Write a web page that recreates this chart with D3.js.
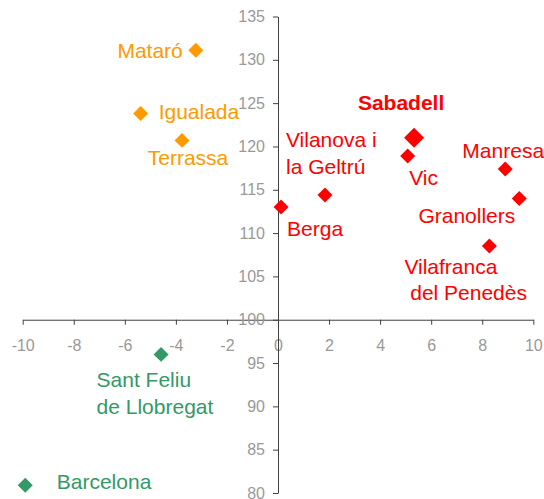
<!DOCTYPE html>
<html lang="en">
<head>
<meta charset="UTF-8">
<title>Scatter</title>
<style>
  body { margin: 0; background: #fff; }
  text { font-family: "Liberation Sans", Arial, sans-serif; }
</style>
</head>
<body>
<script src="https://cdn.jsdelivr.net/npm/d3@7"></script>
<script>
    const width = 544, height = 499;

    // cities, values
    const names = ["Mataró", "Igualada", "Terrassa", "Sabadell", "Vic", "Manresa", "Granollers",
                   "Vilafranca del Penedès", "Vilanova i la Geltrú", "Berga", "Sant Feliu de Llobregat", "Barcelona"];
    const xValues = [-3.22, -5.38, -3.76, 5.33, 5.08, 8.90, 9.45, 8.28, 1.84, 0.12, -4.58, -9.90];
    const yValues = [131.1, 123.8, 120.7, 121.0, 118.9, 117.4, 114.0, 108.5, 114.4, 113.0, 96.0, 80.9];
    const groups  = ["orange", "orange", "orange", "red", "red", "red", "red", "red", "red", "red", "green", "green"];
    const labelLines = [["Mataró"], ["Igualada"], ["Terrassa"], ["Sabadell"], ["Vic"], ["Manresa"], ["Granollers"],
                        ["Vilafranca", " del Penedès"], ["Vilanova i", "la Geltrú"], ["Berga"], ["Sant Feliu", "de Llobregat"], ["Barcelona"]];
    const xTicks = d3.range(-10, 11, 2);
    const yTicks = d3.range(80, 136, 5);

    // label placement (pixels relative to the marker)
    const labelPos = [
        {anchor: "end", dx: -13, dy: 8},
        {anchor: "start", dx: 18, dy: 5},
        {anchor: "middle", dx: 6, dy: 25},
        {anchor: "middle", dx: -13, dy: -28, bold: true},
        {anchor: "start", dx: 1.5, dy: 29.5},
        {anchor: "middle", dx: -2, dy: -11},
        {anchor: "end", dx: -4, dy: 24.5},
        {anchor: "start", dx: -85, dy: 27.5},
        {anchor: "start", dx: -39, dy: -47.5},
        {anchor: "start", dx: 6, dy: 28.5},
        {anchor: "start", dx: -64.5, dy: 32.5},
        {anchor: "start", dx: 31.5, dy: 4}
    ];

    const color = {orange: "#ff9900", red: "#ff0000", green: "#339966"};

    const data = names.map((n, i) => ({name: n, x: xValues[i], y: yValues[i], group: groups[i],
                                       lines: labelLines[i], pos: labelPos[i], big: n === "Sabadell"}));

    const x = d3.scaleLinear().domain([-10, 10]).range([22.7, 533.3]);
    const y = d3.scaleLinear().domain([80, 135]).range([493, 16.5]);

    const svg = d3.select("body").append("svg")
        .attr("width", width)
        .attr("height", height)
        .attr("viewBox", [0, 0, width, height]);

    const axisColor = "#404040", tickColor = "#999999";
    // plain hyphen for negatives, like the original
    const fmt = d => String(d);

    svg.append("g")
        .attr("transform", `translate(0,${y(100)})`)
        .call(d3.axisBottom(x).tickValues(xTicks).tickFormat(fmt).tickSize(5).tickPadding(15).tickSizeOuter(0))
        .call(g => g.select(".domain").attr("stroke", axisColor))
        .call(g => g.selectAll(".tick line").attr("stroke", axisColor))
        .call(g => g.selectAll(".tick text").attr("fill", tickColor).style("font-size", "16px"));

    svg.append("g")
        .attr("transform", `translate(${x(0)},0)`)
        .call(d3.axisLeft(y).tickValues(yTicks).tickFormat(fmt).tickSize(5).tickPadding(8).tickSizeOuter(0))
        .call(g => g.select(".domain").attr("stroke", axisColor))
        .call(g => g.selectAll(".tick line").attr("stroke", axisColor))
        .call(g => g.selectAll(".tick text").attr("fill", tickColor).style("font-size", "16px"));

    const diamond = d3.symbol().type(d3.symbolSquare);

    svg.append("g")
        .selectAll("path")
        .data(data)
        .join("path")
        .attr("transform", d => `translate(${x(d.x)},${y(d.y)}) rotate(45)`)
        .attr("d", d => diamond.size(d.big ? 200 : 112)())
        .attr("fill", d => color[d.group]);

    const labels = svg.append("g")
        .selectAll("text")
        .data(data)
        .join("text")
        .attr("x", d => x(d.x) + d.pos.dx)
        .attr("y", d => y(d.y) + d.pos.dy)
        .attr("text-anchor", d => d.pos.anchor)
        .attr("fill", d => color[d.group])
        .attr("font-weight", d => d.pos.bold ? "bold" : null)
        .style("font-size", "21px")
        .style("white-space", "pre");

    labels.selectAll("tspan")
        .data(d => d.lines.map((l, i) => ({l, i, d})))
        .join("tspan")
        .attr("x", t => x(t.d.x) + t.d.pos.dx)
        .attr("dy", t => t.i === 0 ? 0 : 26.7)
        .text(t => t.l);
</script>
</body>
</html>
